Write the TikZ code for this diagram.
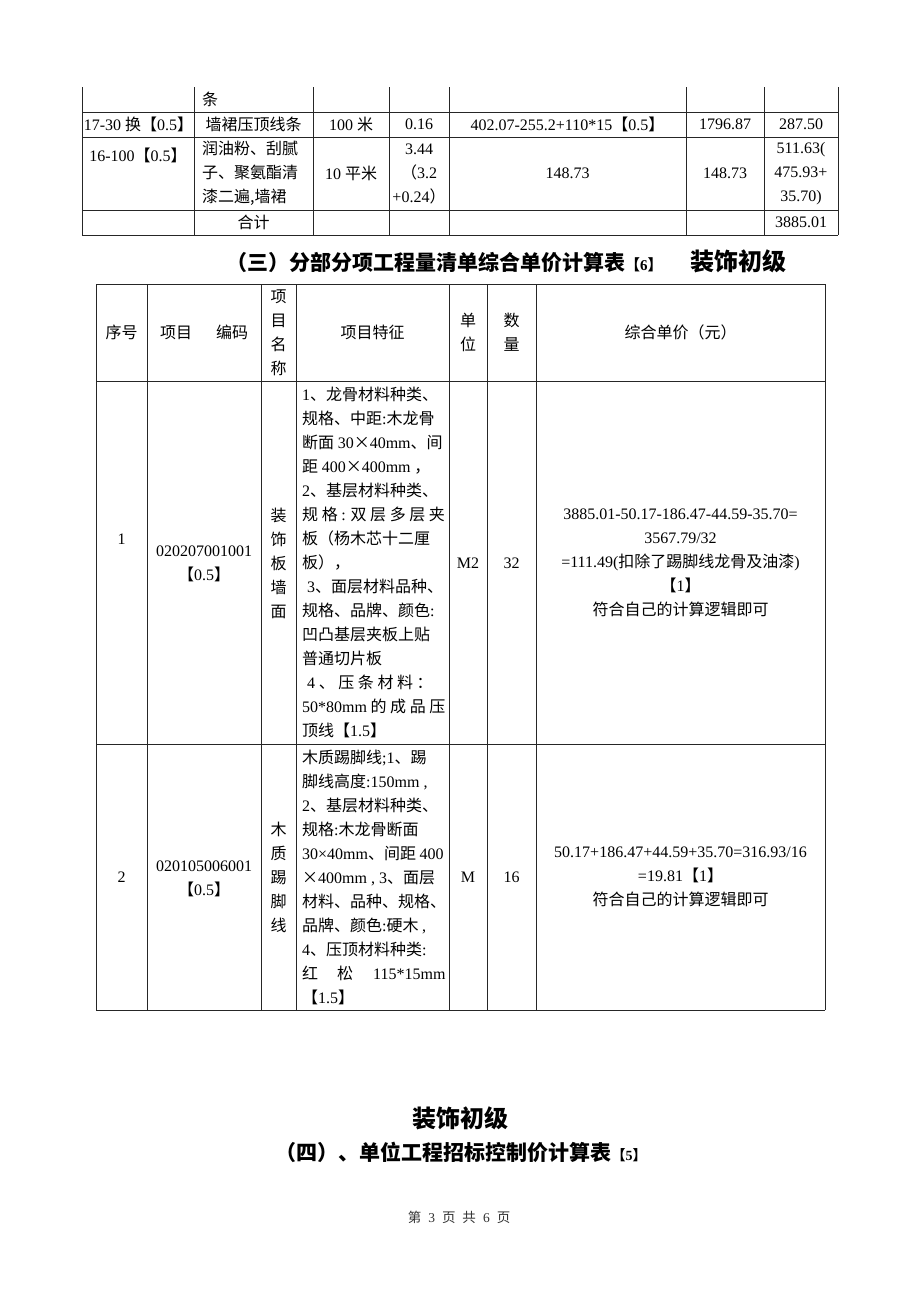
\documentclass[tikz,border=0pt]{standalone}
\usepackage{fontspec}
\setmainfont{Noto Sans CJK SC}
\newfontfamily\lat{Liberation Serif}
\newcommand\E[1]{{\lat #1}}
\newcommand\fs{\fontsize{16}{24}\selectfont}
\begin{document}
\begin{tikzpicture}[x=1pt,y=-1pt,
  tl/.style={line width=0.9pt, draw=black!85},
  tx/.style={font=\fs, inner sep=0pt, align=center, text=black},
  lt/.style={font=\fs, inner sep=0pt, align=left, anchor=west, text=black},
]
\useasboundingbox[fill=white] (0,0) rectangle (920,1302);
% ---------- top table grid ----------
\foreach \x in {82,194,313,389,449,686,764,838} \draw[tl] (\x,87) -- (\x,235);
\foreach \y in {112,137,210,235} \draw[tl] (82,\y) -- (838,\y);
% row 0
\node[lt] (t0b) at (202,99.5) {条};
% row 1
\node[tx] (t1a) at (138.5,124.5) {\E{17-30 }换【\E{0.5}】};
\node[tx] (t1b) at (253.5,124.5) {墙裙压顶线条};
\node[tx] (t1c) at (351,124.5) {\E{100 }米};
\node[tx] (t1d) at (419,124.5) {\E{0.16}};
\node[tx] (t1e) at (567.5,124.5) {\E{402.07-255.2+110*15}【\E{0.5}】};
\node[tx] (t1f) at (725,124.5) {\E{1796.87}};
\node[tx] (t1g) at (801,124.5) {\E{287.50}};
% row 2
\node[tx] (t2a) at (138,155) {\E{16-100}【\E{0.5}】};
\node[lt] (t2b) at (202,173.5) {润油粉、刮腻\\子、聚氨酯清\\漆二遍,墙裙};
\node[tx] (t2c) at (351,173.5) {\E{10 }平米};
\node[tx] (t2d) at (419,173.5) {\E{3.44}\\（\E{3.2}\\\E{+0.24}）};
\node[tx] (t2e) at (567.5,173.5) {\E{148.73}};
\node[tx] (t2f) at (725,173.5) {\E{148.73}};
\node[tx] (t2g) at (801,173.5) {\E{511.63(}\\\E{475.93+}\\\E{35.70)}};
% row 3
\node[tx] (t3b) at (253.5,222.5) {合计};
\node[tx] (t3g) at (801,222.5) {\E{3885.01}};
% ---------- heading (三) ----------
\node[inner sep=0pt, anchor=west] (h3) at (226,261)
  {{\fontsize{21}{21}\selectfont\bfseries （三）分部分项工程量清单综合单价计算表}{\fontsize{15}{15}\selectfont\bfseries 【\E{6}】}\hspace{28pt}{\fontsize{24}{24}\selectfont\bfseries 装饰初级}};
% ---------- second table grid ----------
\foreach \x in {96,147,261,296,449,487,536,825} \draw[tl] (\x,284) -- (\x,1010);
\foreach \y in {284,381,744,1010} \draw[tl] (96,\y) -- (825,\y);
% header
\node[tx] (s0a) at (121.5,332.5) {序号};
\node[tx] (s0b) at (204,332.5) {项目\hspace{1.5em}编码};
\node[tx] (s0c) at (278.5,332.5) {项\\目\\名\\称};
\node[tx] (s0d) at (372.5,332.5) {项目特征};
\node[tx] (s0e) at (468,332.5) {单\\位};
\node[tx] (s0f) at (511.5,332.5) {数\\量};
\node[tx] (s0g) at (680.5,332.5) {综合单价（元）};
% row 1
\node[tx] (s1a) at (121.5,539) {\E{1}};
\node[tx] (s1b) at (204,563.5) {\E{020207001001}\\【\E{0.5}】};
\node[tx] (s1c) at (278.5,563) {装\\饰\\板\\墙\\面};
\node[lt] (s1d) at (302,562.5) {\E{1}、龙骨材料种类、\\规格、中距\E{:}木龙骨\\断面 \E{30}×\E{40mm}、间\\距 \E{400}×\E{400mm} ，\\\E{2}、基层材料种类、\\规 格 \E{:} 双 层 多 层 夹\\板（杨木芯十二厘\\板），\\\hspace{5pt}\E{3}、面层材料品种、\\规格、品牌、颜色\E{:}\\凹凸基层夹板上贴\\普通切片板\\\hspace{5pt}\E{4} 、 压 条 材 料 ：\\\E{50*80mm} 的 成 品 压\\顶线【\E{1.5}】};
\node[tx] (s1e) at (468,563) {\E{M2}};
\node[tx] (s1f) at (511.5,563) {\E{32}};
\node[tx] (s1g) at (680.5,563) {\E{3885.01-50.17-186.47-44.59-35.70=}\\\E{3567.79/32}\\\E{=111.49(}扣除了踢脚线龙骨及油漆\E{)}\\【\E{1}】\\符合自己的计算逻辑即可};
% row 2
\node[tx] (s2a) at (121.5,877) {\E{2}};
\node[tx] (s2b) at (204,878.5) {\E{020105006001}\\【\E{0.5}】};
\node[tx] (s2c) at (278.5,877) {木\\质\\踢\\脚\\线};
\node[lt] (s2d) at (302,877) {木质踢脚线\E{;1}、踢\\脚线高度\E{:150mm ,}\\\E{2}、基层材料种类、\\规格\E{:}木龙骨断面\\\E{30×40mm}、间距 \E{400}\\×\E{400mm , 3}、面层\\材料、品种、规格、\\品牌、颜色\E{:}硬木 \E{,}\\\E{4}、压顶材料种类\E{:}\\红\hspace{19pt}松\hspace{20pt}\E{115*15mm}\\【\E{1.5}】};
\node[tx] (s2e) at (468,877) {\E{M}};
\node[tx] (s2f) at (511.5,877) {\E{16}};
\node[tx] (s2g) at (680.5,877) {\E{50.17+186.47+44.59+35.70=316.93/16}\\\E{=19.81}【\E{1}】\\符合自己的计算逻辑即可};
% ---------- bottom headings ----------
\node[inner sep=0pt] (b1) at (460,1118) {\fontsize{24}{24}\selectfont\bfseries 装饰初级};
\node[inner sep=0pt] (b2) at (461,1152)
  {{\fontsize{21}{21}\selectfont\bfseries （四）、单位工程招标控制价计算表}{\fontsize{14}{14}\selectfont\bfseries 【\E{5}】}};
\node[inner sep=0pt, text=black!80] (pg) at (459,1217) {\fontsize{13.5}{13.5}\selectfont 第\hspace{7pt}\E{3}\hspace{7pt}页\hspace{7pt}共\hspace{7pt}\E{6}\hspace{7pt}页};
\end{tikzpicture}
\end{document}
